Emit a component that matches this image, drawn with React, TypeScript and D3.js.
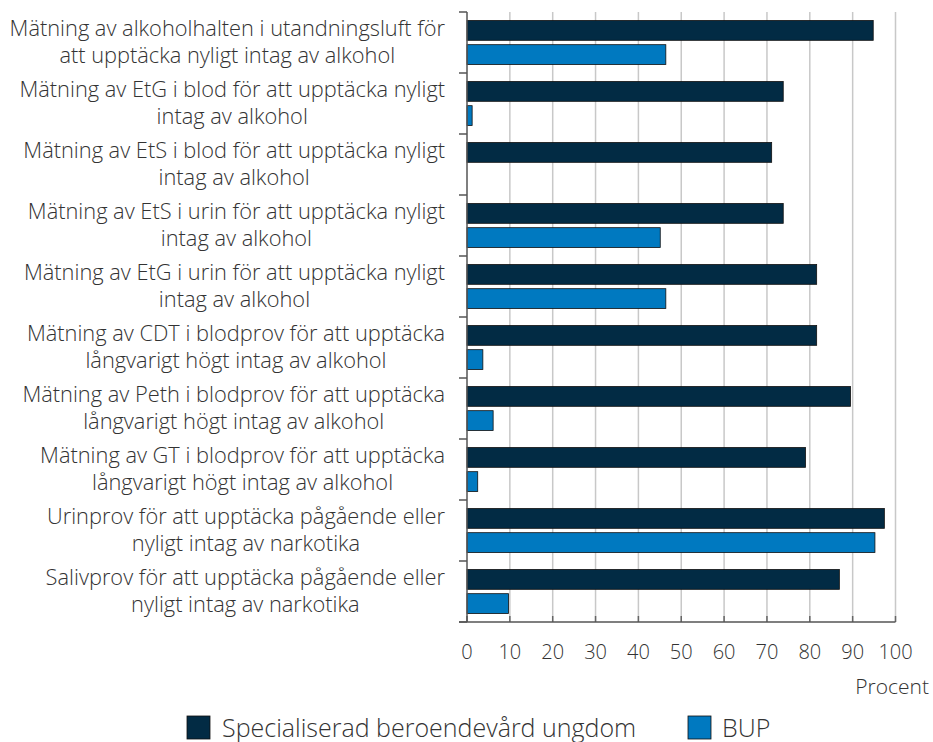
import React from "react";
import * as d3 from "d3";

const categories: string[][] = [
  ["Mätning av alkoholhalten i utandningsluft för", "att upptäcka nyligt intag av alkohol"],
  ["Mätning av EtG i blod för att upptäcka nyligt", "intag av alkohol"],
  ["Mätning av EtS i blod för att upptäcka nyligt", "intag av alkohol"],
  ["Mätning av EtS i urin för att upptäcka nyligt", "intag av alkohol"],
  ["Mätning av EtG i urin för att upptäcka nyligt", "intag av alkohol"],
  ["Mätning av CDT i blodprov för att upptäcka", "långvarigt högt intag av alkohol"],
  ["Mätning av Peth i blodprov för att upptäcka", "långvarigt högt intag av alkohol"],
  ["Mätning av GT i blodprov för att upptäcka", "långvarigt högt intag av alkohol"],
  ["Urinprov för att upptäcka pågående eller", "nyligt intag av narkotika"],
  ["Salivprov för att upptäcka pågående eller", "nyligt intag av narkotika"],
];

const seriesNames = ["Specialiserad beroendevård ungdom", "BUP"];
const specialiserad = [94.8, 73.8, 71.1, 73.8, 81.6, 81.6, 89.5, 79.0, 97.4, 86.9];
const bup = [46.4, 1.2, 0, 45.1, 46.4, 3.7, 6.1, 2.5, 95.2, 9.7];
const xTicks = [0, 10, 20, 30, 40, 50, 60, 70, 80, 90, 100];
const xAxisTitle = "Procent";

const colors = ["#022b44", "#0079c0"];
const FONT = "'Open Sans', sans-serif";
const WEIGHT = 300;
const LABEL_SIZE = 21.8;

function measure(text: string, size: number): number {
  const c = document.createElement("canvas");
  const ctx = c.getContext("2d")!;
  ctx.font = `${WEIGHT} ${size}px 'Open Sans'`;
  return ctx.measureText(text).width;
}

export default function App() {
  const W = 933;
  const H = 742;
  const left = 467;
  const right = 895.5;
  const top = 12;
  const bottom = 622;

  const x = d3.scaleLinear().domain([0, 100]).range([left, right]);
  const y = d3
    .scaleBand<number>()
    .domain(d3.range(categories.length))
    .range([top, bottom]);
  const inner = d3
    .scaleBand<number>()
    .domain([0, 1])
    .range([0, y.bandwidth()])
    .paddingInner(0.18)
    .paddingOuter(0.35);

  const series = [specialiserad, bup];
  const labelRight = 445;

  return (
    <svg
      width={W}
      height={H}
      style={{ position: "absolute", left: 0, top: 0, fontFamily: FONT, fontWeight: WEIGHT }}
    >
      {xTicks.slice(1).map((t) => (
        <line
          key={"g" + t}
          x1={x(t)}
          x2={x(t)}
          y1={top}
          y2={bottom}
          stroke="#c8c8c8"
          strokeWidth={1.5}
        />
      ))}
      {xTicks.map((t) => (
        <line
          key={"bt" + t}
          x1={x(t)}
          x2={x(t)}
          y1={bottom - 6}
          y2={bottom}
          stroke="#666"
          strokeWidth={1.5}
        />
      ))}
      {series.map((vals, si) =>
        vals.map((v, i) =>
          v > 0 ? (
            <rect
              key={`b${si}-${i}`}
              x={x(0)}
              y={(y(i) as number) + (inner(si) as number)}
              width={x(v) - x(0)}
              height={inner.bandwidth()}
              fill={colors[si]}
              stroke="#111"
              strokeWidth={0.8}
            />
          ) : null
        )
      )}
      <line x1={left} x2={left} y1={top} y2={bottom} stroke="#555" strokeWidth={1.5} />
      {d3.range(categories.length + 1).map((i) => {
        const yy = top + i * y.bandwidth();
        return (
          <line key={"lt" + i} x1={left - 8} x2={left} y1={yy} y2={yy} stroke="#555" strokeWidth={1.5} />
        );
      })}
      <line x1={left - 8} x2={right} y1={bottom} y2={bottom} stroke="#555" strokeWidth={1.5} />
      {xTicks.map((t) => (
        <text
          key={"xl" + t}
          x={x(t)}
          y={659}
          textAnchor="middle"
          fontSize={20}
          fill="#333"
        >
          {t}
        </text>
      ))}
      <text x={929} y={694} textAnchor="end" fontSize={21} fill="#333">
        {xAxisTitle}
      </text>
      {categories.map((lines, i) => {
        const maxW = Math.max(...lines.map((l) => measure(l, LABEL_SIZE)));
        const cx = labelRight - maxW / 2;
        const cy = (y(i) as number) + y.bandwidth() / 2;
        const lh = 27.5;
        return (
          <text key={"cl" + i} fontSize={LABEL_SIZE} fill="#333" textAnchor="middle">
            {lines.map((l, j) => (
              <tspan key={j} x={cx} y={cy + (j - (lines.length - 1) / 2) * lh + 7}>
                {l}
              </tspan>
            ))}
          </text>
        );
      })}
      <rect x={187} y={716} width={23} height={23} fill={colors[0]} stroke="#111" strokeWidth={0.8} />
      <text x={222} y={736.5} fontSize={25} fill="#333">
        {seriesNames[0]}
      </text>
      <rect x={688} y={716} width={23} height={23} fill={colors[1]} stroke="#111" strokeWidth={0.8} />
      <text x={722} y={736.5} fontSize={25} fill="#333">
        {seriesNames[1]}
      </text>
    </svg>
  );
}
